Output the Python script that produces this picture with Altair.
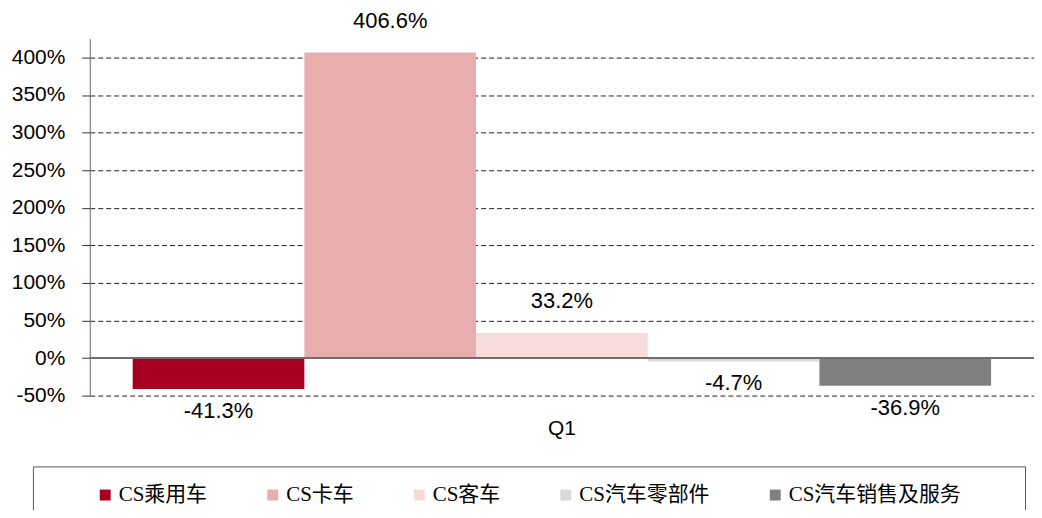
import altair as alt
import pandas as pd

quarters = ["Q1"] * 5
series = ["CS乘用车", "CS卡车", "CS客车", "CS汽车零部件", "CS汽车销售及服务"]
values = [-41.3, 406.6, 33.2, -4.7, -36.9]
colors = ["#A50021", "#E8AEAD", "#F7DBDB", "#D9D9D9", "#808080"]
y_ticks = [-50, 0, 50, 100, 150, 200, 250, 300, 350, 400]

df = pd.DataFrame({
    "quarter": quarters,
    "series": series,
    "value": values,
    "label": [f"{v:.1f}%" for v in values],
})

FONT = "Liberation Sans, Arial, sans-serif"
PAD = "\u3000\u3000\u2009\u200b"

x_enc = alt.X(
    "quarter:N",
    scale=alt.Scale(paddingInner=0, paddingOuter=0.05),
    axis=alt.Axis(title=None, labelAngle=0, domain=False, ticks=False,
                  labelFontSize=21, labelPadding=22, labelColor="#000", labelFont=FONT,
                  grid=False),
)
xoff = alt.XOffset("series:N", sort=series, scale=alt.Scale(paddingInner=0, paddingOuter=0))
y_scale = alt.Scale(domain=[-50, 425], nice=False, zero=False)

bars = alt.Chart(df).mark_bar().encode(
    x=x_enc,
    xOffset=xoff,
    y=alt.Y("value:Q", scale=y_scale,
            axis=alt.Axis(title=None, values=y_ticks, tickCount=20,
                          labelExpr="datum.value + '%'",
                          labelOverlap=False,
                          labelFontSize=21, labelFont=FONT, labelColor="#000",
                          labelPadding=17, tickSize=8, tickColor="#333", domainColor="#666",
                          grid=True, gridColor="#222", gridDash=[5, 3], gridWidth=1)),
    color=alt.Color("series:N", sort=series,
                    scale=alt.Scale(domain=series, range=colors),
                    legend=alt.Legend(orient="none", legendX=-57, legendY=429,
                                      direction="horizontal", columns=5,
                                      title="\u00a0", titleOrient="left", titleFontSize=1,
                                      titlePadding=44,
                                      strokeColor="#555", padding=18, columnPadding=55,
                                      symbolType="square", symbolSize=120, symbolStrokeWidth=0,
                                      labelFont="Liberation Serif, Noto Sans CJK SC",
                                      labelFontSize=21, labelColor="#000", labelOffset=3,
                                      labelLimit=400,
                                      labelExpr=f"datum.value == '{series[-1]}' ? datum.label + '{PAD}' : datum.label")),
)

zero = alt.Chart(df).mark_rule(color="#6e6e6e", strokeWidth=2).encode(y=alt.datum(0))

pos = alt.Chart(df).transform_filter("datum.value >= 0").mark_text(
    baseline="bottom", dy=-20, fontSize=22, font=FONT, color="#000"
).encode(x=alt.X("quarter:N"), xOffset=xoff, y=alt.Y("value:Q", scale=y_scale), text="label:N")

neg = alt.Chart(df).transform_filter("datum.value < 0").mark_text(
    baseline="top", dy=12, fontSize=22, font=FONT, color="#000"
).encode(x=alt.X("quarter:N"), xOffset=xoff, y=alt.Y("value:Q", scale=y_scale), text="label:N")

chart = alt.layer(bars, zero, pos, neg).properties(
    width=947, height=358,
    background="white",
    autosize=alt.AutoSizeParams(type="none"),
    padding={"left": 82, "top": 30, "right": 0, "bottom": 114},
).configure_view(stroke=None)

chart.save("out.html", embed_options={"renderer": "svg", "actions": False})
